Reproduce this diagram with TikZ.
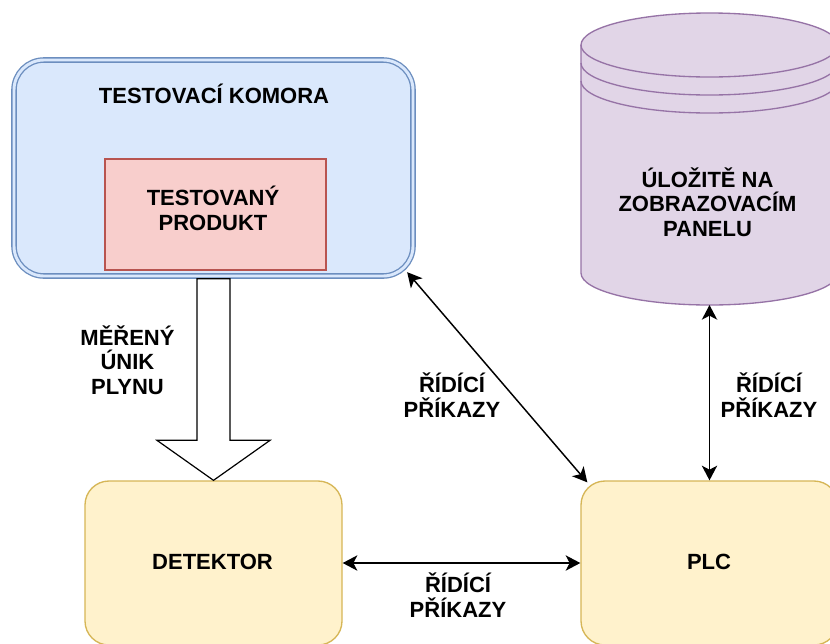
\documentclass[tikz,border=0pt]{standalone}
\usepackage{fontspec}
\setmainfont{Liberation Sans}
\usetikzlibrary{arrows.meta,calc}
\definecolor{bluefill}{HTML}{DAE8FC}
\definecolor{bluestroke}{HTML}{6C8EBF}
\definecolor{redfill}{HTML}{F8CECC}
\definecolor{redstroke}{HTML}{B85450}
\definecolor{yelfill}{HTML}{FFF2CC}
\definecolor{yelstroke}{HTML}{D6B656}
\definecolor{purfill}{HTML}{E1D5E7}
\definecolor{purstroke}{HTML}{9673A6}
\tikzset{
  lbl/.style={font=\fontsize{16.5}{18.3}\selectfont\bfseries, align=center, inner sep=0pt, anchor=base},
  chamberbox/.style={rectangle, fill=bluefill, draw=bluestroke, double=bluefill, double distance=2.2pt, line width=1pt, rounded corners=22.5pt, inner sep=0pt},
  productbox/.style={rectangle, fill=redfill, draw=redstroke, line width=0.9pt, inner sep=0pt},
  yelbox/.style={rectangle, fill=yelfill, draw=yelstroke, line width=1pt, rounded corners=18pt, inner sep=0pt, minimum width=192.75pt, minimum height=123pt},
  conn/.style={line width=1.1pt, {Stealth[length=11pt,width=11.5pt,inset=3pt]}-{Stealth[length=11pt,width=11.5pt,inset=3pt]}},
  blockarrow/.style={draw=black, fill=white, line width=0.9pt, line join=miter},
  cyl/.style={fill=purfill, draw=purstroke, line width=1pt}
}
\begin{document}
\begin{tikzpicture}[x=0.75pt,y=-0.75pt]
\clip (0,0) rectangle (830,643);
\fill[white] (0,0) rectangle (830,643);

% chamber
\node[chamberbox, minimum width=299.25pt, minimum height=162pt] (chamber) at (213.5,168) {};
\node[lbl] (chambertitle) at (214,103) {TESTOVACÍ KOMORA};
\node[productbox, minimum width=165.75pt, minimum height=83.25pt] (product) at (215.5,214.5) {};
\node[lbl] (producttext) at (213,230) {TESTOVANÝ\\PRODUKT};

% cylinder
\path[cyl] (581,45) -- (581,273)
  arc[start angle=180, end angle=360, x radius=96.375pt, y radius=24pt]
  -- (838,45)
  arc[start angle=0, end angle=180, x radius=96.375pt, y radius=24pt] -- cycle;
\draw[purstroke, line width=1pt] (581,45) arc[start angle=180, end angle=360, x radius=96.375pt, y radius=24pt];
\draw[purstroke, line width=1pt] (581,63) arc[start angle=180, end angle=360, x radius=96.375pt, y radius=24pt];
\draw[purstroke, line width=1pt] (581,81) arc[start angle=180, end angle=360, x radius=96.375pt, y radius=24pt];
\node[rectangle, minimum width=192.75pt, minimum height=219pt, inner sep=0pt, outer sep=0pt] (store) at (709.5,159) {};
\node[lbl] (storetext) at (707.5,236) {ÚLOŽITĚ NA\\ZOBRAZOVACÍM\\PANELU};

% detector & plc
\node[yelbox] (detector) at (213.5,563) {};
\node[lbl] (detectortext) at (212.5,569) {DETEKTOR};
\node[yelbox] (plc) at (709.5,563) {};
\node[lbl] (plctext) at (709,569) {PLC};

% block arrow
\draw[blockarrow] ($(chamber.south)+(-16.5,2)$) -- ($(detector.north)+(-16.5,-40)$)
  -- ($(detector.north)+(-56.5,-40)$) -- (detector.north)
  -- ($(detector.north)+(56.5,-40)$) -- ($(detector.north)+(16.5,-40)$)
  -- ($(chamber.south)+(16.5,2)$) -- cycle;
\node[lbl] (gaslabel) at (127.5,394) {MĚŘENÝ\\ÚNIK\\PLYNU};

% connectors
\draw[conn] (detector.east) -- (plc.west);
\node[lbl] (lblh) at (458,617) {ŘÍDÍCÍ\\PŘÍKAZY};
\draw[conn] (store.south) -- (plc.north);
\node[lbl] (lblv) at (769,417) {ŘÍDÍCÍ\\PŘÍKAZY};
\draw[conn] ($(chamber.south east)+(-6.5,-4.5)$) -- ($(plc.north west)+(7,2)$);
\node[lbl] (lbld) at (452,417) {ŘÍDÍCÍ\\PŘÍKAZY};
\end{tikzpicture}
\end{document}
